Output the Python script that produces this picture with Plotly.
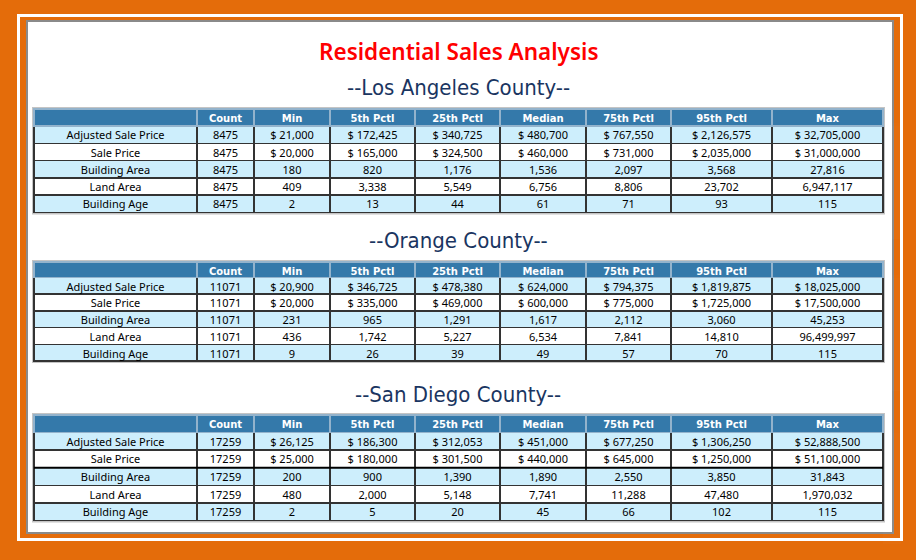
import plotly.graph_objects as go

# Column and row labels shared by all three tables
stats = ["Count", "Min", "5th Pctl", "25th Pctl", "Median", "75th Pctl", "95th Pctl", "Max"]
measures = ["Adjusted Sale Price", "Sale Price", "Building Area", "Land Area", "Building Age"]
counties = ["--Los Angeles County--", "--Orange County--", "--San Diego County--"]

# Los Angeles County
la_adj_price = [8475, 21000, 172425, 340725, 480700, 767550, 2126575, 32705000]
la_sale_price = [8475, 20000, 165000, 324500, 460000, 731000, 2035000, 31000000]
la_bldg_area = [8475, 180, 820, 1176, 1536, 2097, 3568, 27816]
la_land_area = [8475, 409, 3338, 5549, 6756, 8806, 23702, 6947117]
la_bldg_age = [8475, 2, 13, 44, 61, 71, 93, 115]

# Orange County
oc_adj_price = [11071, 20900, 346725, 478380, 624000, 794375, 1819875, 18025000]
oc_sale_price = [11071, 20000, 335000, 469000, 600000, 775000, 1725000, 17500000]
oc_bldg_area = [11071, 231, 965, 1291, 1617, 2112, 3060, 45253]
oc_land_area = [11071, 436, 1742, 5227, 6534, 7841, 14810, 96499997]
oc_bldg_age = [11071, 9, 26, 39, 49, 57, 70, 115]

# San Diego County
sd_adj_price = [17259, 26125, 186300, 312053, 451000, 677250, 1306250, 52888500]
sd_sale_price = [17259, 25000, 180000, 301500, 440000, 645000, 1250000, 51100000]
sd_bldg_area = [17259, 200, 900, 1390, 1890, 2550, 3850, 31843]
sd_land_area = [17259, 480, 2000, 5148, 7741, 11288, 47480, 1970032]
sd_bldg_age = [17259, 2, 5, 20, 45, 66, 102, 115]

tables = [
    [la_adj_price, la_sale_price, la_bldg_area, la_land_area, la_bldg_age],
    [oc_adj_price, oc_sale_price, oc_bldg_area, oc_land_area, oc_bldg_age],
    [sd_adj_price, sd_sale_price, sd_bldg_area, sd_land_area, sd_bldg_age],
]

W, H = 916, 560
ORANGE = "#e46c0a"
HEAD_BLUE = "#3479aa"
LIGHT = "#cdeefc"
CLEAR = "rgba(0,0,0,0)"

# layout of each table in pixels: top, header height, row height
table_tops = [109, 262, 415]
header_h = [17, 15.5, 17.5]
row_h = [17.3, 16.7, 17.6]
heading_y = [87, 240, 394]
tbl_x0, tbl_x1 = 34, 883
col_widths = [163, 57, 76, 85, 85, 86, 85, 101, 111]
text_lift = 3  # table text sits a little higher than plotly's default padding


def px_x(x):
    return x / W


def px_y(y):
    return 1 - y / H


def fmt(row_idx, col_idx, v):
    if col_idx == 0:
        return str(v)
    if row_idx < 2:
        return "$ {:,}".format(v)
    return "{:,}".format(v)


fig = go.Figure()

for t, rows in enumerate(tables):
    columns = [measures]
    for j in range(len(stats)):
        columns.append([fmt(i, j, r[j]) for i, r in enumerate(rows)])
    fills = [[LIGHT if i % 2 == 0 else "white" for i in range(len(measures))]
             for _ in columns]
    top = table_tops[t]

    # grid: fills and rules, no text
    fig.add_trace(go.Table(
        domain=dict(x=[px_x(tbl_x0), px_x(tbl_x1)], y=[px_y(top + 130), px_y(top)]),
        columnwidth=col_widths,
        header=dict(values=[""] * len(columns), fill_color=HEAD_BLUE,
                    line=dict(color="#93b3cc", width=1.5), height=header_h[t]),
        cells=dict(values=[[""] * len(measures) for _ in columns], fill_color=fills,
                   line=dict(color="#333333", width=1.5), height=row_h[t]),
    ))
    # text layer
    fig.add_trace(go.Table(
        domain=dict(x=[px_x(tbl_x0), px_x(tbl_x1)],
                    y=[px_y(top + 130), px_y(top - text_lift)]),
        columnwidth=col_widths,
        header=dict(
            values=[""] + stats,
            fill_color=CLEAR,
            line=dict(color=CLEAR, width=0),
            font=dict(family="DejaVu Sans", size=10, color="white", weight="bold"),
            align="center",
            height=header_h[t],
        ),
        cells=dict(
            values=columns,
            fill_color=CLEAR,
            line=dict(color=CLEAR, width=0),
            font=dict(family="Noto Sans", size=11, color="black"),
            align="center",
            height=row_h[t],
        ),
    ))

shapes = [
    # thin white line inside the orange frame
    dict(type="rect", xref="paper", yref="paper",
         x0=px_x(18.5), x1=px_x(901.5), y0=px_y(539.5), y1=px_y(15.5),
         line=dict(color="white", width=3), layer="below"),
    # white panel
    dict(type="rect", xref="paper", yref="paper",
         x0=px_x(27), x1=px_x(893), y0=px_y(533), y1=px_y(21),
         fillcolor="white", line=dict(color="#8a8a8a", width=2), layer="below"),
]
# light grey frame round each table, drawn beneath the cells
for t, top in enumerate(table_tops):
    bottom = top + header_h[t] + 5 * row_h[t]
    shapes.append(dict(type="rect", xref="paper", yref="paper",
                       x0=px_x(tbl_x0 - 2), x1=px_x(tbl_x1 + 2),
                       y0=px_y(bottom + 2), y1=px_y(top - 2),
                       fillcolor="#c4c4c4", line=dict(width=0), layer="below"))
# heavier rule under the San Diego "Sale Price" row
sd_rule = table_tops[2] + header_h[2] + 2 * row_h[2]
shapes.append(dict(type="line", xref="paper", yref="paper",
                   x0=px_x(tbl_x0), x1=px_x(tbl_x1), y0=px_y(sd_rule), y1=px_y(sd_rule),
                   line=dict(color="black", width=2)))

annotations = [dict(text="Residential Sales Analysis", x=0.5, y=px_y(51),
                    xref="paper", yref="paper", showarrow=False, yanchor="middle",
                    font=dict(family="Noto Sans", size=22.5, color="#ff0000", weight=600))]
for name, y in zip(counties, heading_y):
    annotations.append(dict(text=name, x=0.5, y=px_y(y), xref="paper", yref="paper",
                            showarrow=False, yanchor="middle",
                            font=dict(family="DejaVu Sans Condensed, Liberation Sans Narrow, sans-serif",
                                      size=22, color="#1a3561")))

fig.update_layout(
    width=W, height=H,
    margin=dict(l=0, r=0, t=0, b=0),
    paper_bgcolor=ORANGE,
    shapes=shapes,
    annotations=annotations,
)

fig.write_html("out.html", config={"displayModeBar": False},
               post_script="document.body.style.margin = '0';")
